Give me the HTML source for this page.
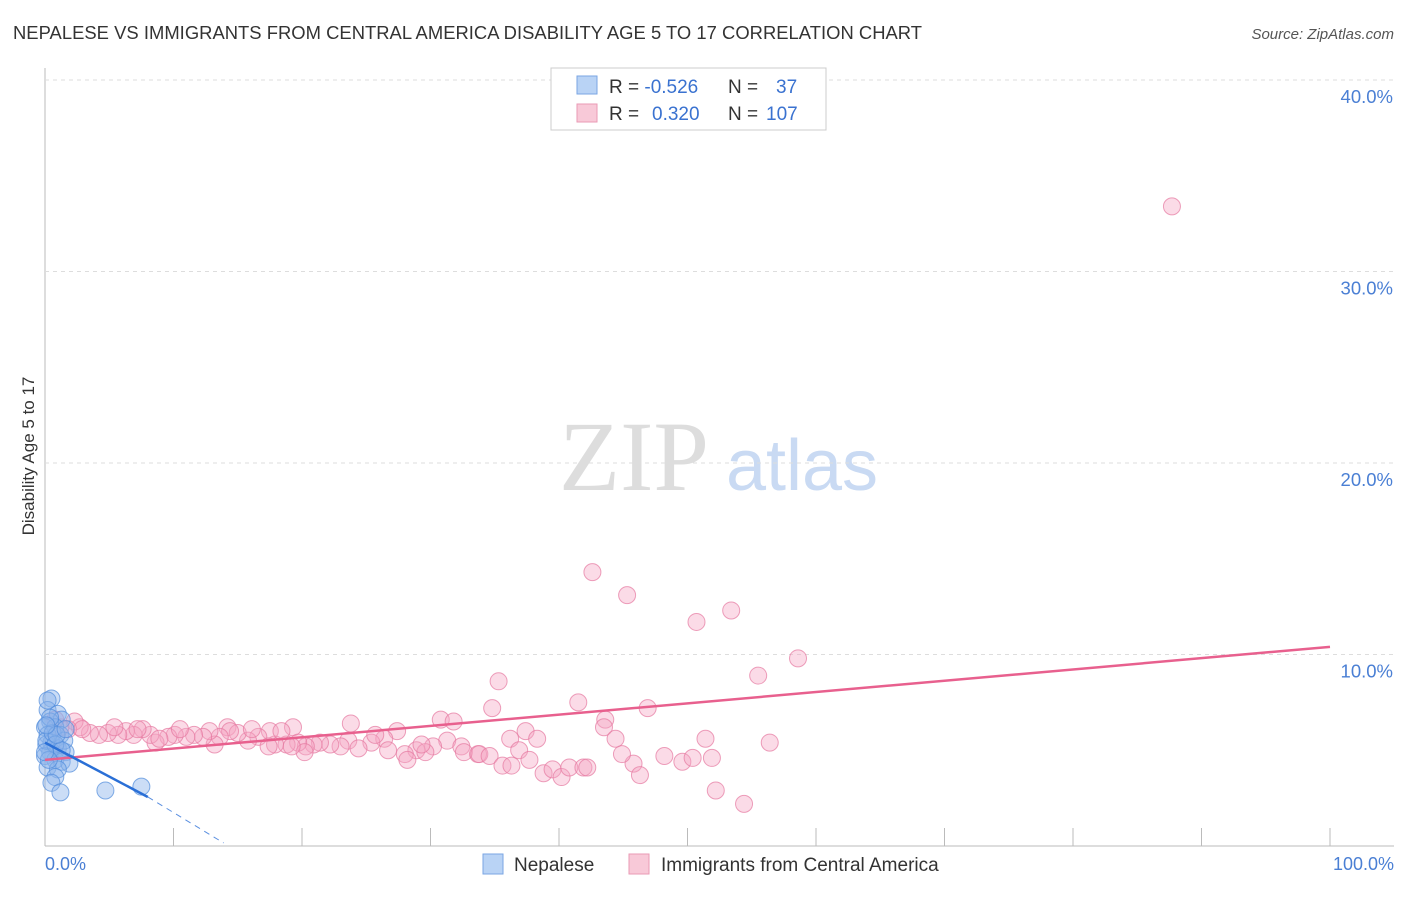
<!DOCTYPE html>
<html><head><meta charset="utf-8"><style>
body{margin:0;background:#fff;font-family:"Liberation Sans",sans-serif;}
svg text{font-family:"Liberation Sans",sans-serif;}
svg text.serif{font-family:"Liberation Serif",serif;}
</style></head><body>
<svg id="chart" width="1406" height="892">
<text x="13" y="39" font-size="18.4" fill="#333" textLength="909">NEPALESE VS IMMIGRANTS FROM CENTRAL AMERICA DISABILITY AGE 5 TO 17 CORRELATION CHART</text>
<text x="1394" y="39" font-size="15" fill="#555" font-style="italic" text-anchor="end">Source: ZipAtlas.com</text>
<g>
<text class="serif" x="634" y="490" font-size="100" fill="#ddd" text-anchor="middle">ZIP</text>
<text x="802" y="490" font-size="72" fill="#c9daf3" text-anchor="middle">atlas</text>
</g>
<g id="grid"></g>
<g id="marks"></g>
<text transform="translate(34,456) rotate(-90)" font-size="17" fill="#333" text-anchor="middle">Disability Age 5 to 17</text>
<text x="45" y="870" font-size="18" fill="#4a7fd4">0.0%</text>
<text x="1394" y="870" font-size="18" fill="#4a7fd4" text-anchor="end">100.0%</text>
<g>
<rect x="551" y="68" width="275" height="62" fill="#fff" stroke="#ccc"/>
<rect x="577" y="76" width="20" height="18" fill="#b9d3f5" stroke="#7aa6e3"/>
<rect x="577" y="104" width="20" height="18" fill="#f8c9d8" stroke="#ea9ab5"/>
<text x="609" y="93" font-size="19" fill="#333">R = <tspan fill="#3a72d0">-0.526</tspan><tspan x="728">N = </tspan><tspan x="776" fill="#3a72d0">37</tspan></text>
<text x="609" y="120" font-size="19" fill="#333">R = <tspan x="652" fill="#3a72d0">0.320</tspan><tspan x="728">N = </tspan><tspan x="766" fill="#3a72d0">107</tspan></text>
</g>
<g>
<rect x="483" y="854" width="20" height="20" fill="#b9d3f5" stroke="#7aa6e3"/>
<text x="514" y="871" font-size="19" fill="#333">Nepalese</text>
<rect x="629" y="854" width="20" height="20" fill="#f8c9d8" stroke="#ea9ab5"/>
<text x="661" y="871" font-size="19" fill="#333">Immigrants from Central America</text>
</g>
</svg>
<script>
const yTicks=[10,20,30,40];
const yTickLabels=["10.0%","20.0%","30.0%","40.0%"];
const xTicks=[0,10,20,30,40,50,60,70,80,90,100];
const pinkX=[87.7,42.6,45.3,53.4,50.7,58.6,55.5,35.3,46.9,41.5,34.8,30.8,31.8,43.6,23.8,27.4,19.3,14.2,43.5,37.4,44.4,36.2,38.3,56.4,51.4,26.4,31.3,30.2,32.4,28.9,29.6,28.0,26.7,32.6,33.7,33.8,34.6,36.9,25.4,25.7,23.6,23.0,22.2,21.4,20.9,20.3,19.7,18.8,17.9,17.5,16.6,15.8,15.0,14.4,13.6,13.2,12.8,12.3,11.6,11.0,10.1,9.6,8.6,8.2,7.6,6.9,6.3,5.7,4.9,4.2,3.5,2.7,2.3,1.8,1.2,0.8,2.9,5.4,7.2,8.9,10.5,16.1,18.4,20.2,24.4,28.2,29.3,37.7,38.8,39.5,40.2,40.8,41.9,42.2,35.6,36.3,45.8,46.3,48.2,49.6,50.4,51.9,52.2,54.4,44.9,17.4,19.2];
const pinkY=[33.4,14.3,13.1,12.3,11.7,9.8,8.9,8.6,7.2,7.5,7.2,6.6,6.5,6.6,6.4,6.0,6.2,6.2,6.2,6.0,5.6,5.6,5.6,5.4,5.6,5.6,5.5,5.2,5.2,5.0,4.9,4.8,5.0,4.9,4.8,4.8,4.7,5.0,5.4,5.8,5.5,5.2,5.3,5.4,5.3,5.2,5.4,5.3,5.3,6.0,5.7,5.5,5.9,6.0,5.7,5.3,6.0,5.7,5.8,5.7,5.8,5.7,5.4,5.8,6.1,5.8,6.0,5.8,5.9,5.8,5.9,6.2,6.5,6.1,6.2,6.6,6.1,6.2,6.1,5.6,6.1,6.1,6.0,4.9,5.1,4.5,5.3,4.5,3.8,4.0,3.6,4.1,4.1,4.1,4.2,4.2,4.3,3.7,4.7,4.4,4.6,4.6,2.9,2.2,4.8,5.2,5.2];
const blueX=[0.5,0.2,1.0,1.3,0.4,0,0.8,1.2,0.2,0.5,0.1,1.0,0.4,1.6,0,0.8,1.3,1.9,0.2,1.0,0.8,0.5,1.2,4.7,7.5,0.1,0.6,1.5,0.4,0.2,0.8,1.3,0.3,0.9,0,1.6,0.1];
const blueY=[7.7,7.1,6.9,6.6,6.5,6.2,6.2,5.8,5.8,5.4,5.3,5.1,4.9,4.9,4.7,4.5,4.4,4.3,4.1,4.0,3.6,3.3,2.8,2.9,3.1,5.5,5.9,5.5,6.7,7.6,5.3,5.0,4.5,5.8,4.9,6.1,6.3];
const pinkTrendX=[0,100], pinkTrendY=[4.5,10.4];
const blueTrendX=[0,8.0], blueTrendY=[5.4,2.56];
const blueDashX=[8.0,13.9], blueDashY=[2.56,0.16];

const NS="http://www.w3.org/2000/svg";
const sx=v=>45+v*12.85;
const sy=v=>846-v*19.15;
const grid=document.getElementById('grid'), marks=document.getElementById('marks');
function mk(tag,attrs,parent){const e=document.createElementNS(NS,tag);for(const k in attrs)e.setAttribute(k,attrs[k]);parent.appendChild(e);return e;}
let ax=mk('line',{x1:45,y1:68,x2:45,y2:846,stroke:'#bbb'},grid);


let bx=mk('line',{x1:45,y1:846,x2:1394,y2:846,stroke:'#bbb'},grid);


yTicks.forEach((t,i)=>{
 const g=mk('line',{x1:45,x2:1394,y1:sy(t),y2:sy(t),stroke:'#ddd','stroke-dasharray':'4,4'},grid);
 
 
 const l=mk('text',{x:1393,y:sy(t)+23,'font-size':18.5,fill:'#4a7fd4','text-anchor':'end'},grid);
 l.textContent=yTickLabels[i];
 
 
});
xTicks.forEach(t=>{
 const l=mk('line',{x1:sx(t),x2:sx(t),y1:828,y2:846,stroke:'#bbb'},grid);
 
 
});
pinkX.forEach((x,i)=>{
 const c=mk('circle',{cx:sx(x),cy:sy(pinkY[i]),r:8.5,fill:'rgba(244,165,195,0.4)',stroke:'rgba(230,120,160,0.7)','stroke-width':1},marks);
 
 
});
blueX.forEach((x,i)=>{
 const c=mk('circle',{cx:sx(x),cy:sy(blueY[i]),r:8.5,fill:'rgba(140,180,235,0.45)',stroke:'rgba(80,140,220,0.7)','stroke-width':1},marks);
 
 
});
let pt=mk('line',{x1:sx(pinkTrendX[0]),y1:sy(pinkTrendY[0]),x2:sx(pinkTrendX[1]),y2:sy(pinkTrendY[1]),stroke:'#e8608e','stroke-width':2.5},marks);


let bt=mk('line',{x1:sx(blueTrendX[0]),y1:sy(blueTrendY[0]),x2:sx(blueTrendX[1]),y2:sy(blueTrendY[1]),stroke:'#2a6fd6','stroke-width':2.5},marks);


let bd=mk('line',{x1:sx(blueDashX[0]),y1:sy(blueDashY[0]),x2:sx(blueDashX[1]),y2:sy(blueDashY[1]),stroke:'#5a8fe0','stroke-width':1,'stroke-dasharray':'6,5'},marks);


</script>
</body></html>
